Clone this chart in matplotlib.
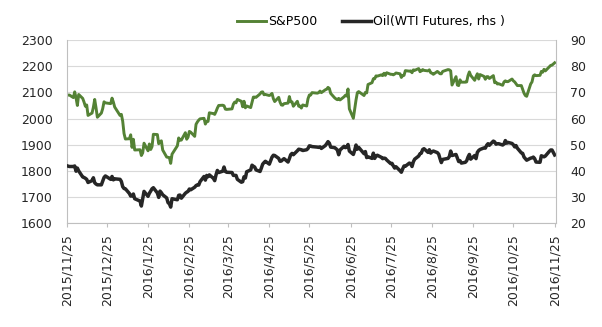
import pandas as pd
import matplotlib
matplotlib.use("Agg")
import matplotlib.pyplot as plt

# trading days, 2015/11/25 - 2016/11/25
dates = [
    "2015-11-25", "2015-11-27", "2015-11-30",
    "2015-12-01", "2015-12-02", "2015-12-03", "2015-12-04", "2015-12-07", "2015-12-08", "2015-12-09",
    "2015-12-10", "2015-12-11", "2015-12-14", "2015-12-15", "2015-12-16", "2015-12-17", "2015-12-18",
    "2015-12-21", "2015-12-22", "2015-12-23", "2015-12-24", "2015-12-28", "2015-12-29", "2015-12-30",
    "2015-12-31",
    "2016-01-04", "2016-01-05", "2016-01-06", "2016-01-07", "2016-01-08", "2016-01-11", "2016-01-12",
    "2016-01-13", "2016-01-14", "2016-01-15", "2016-01-19", "2016-01-20", "2016-01-21", "2016-01-22",
    "2016-01-25", "2016-01-26", "2016-01-27", "2016-01-28", "2016-01-29",
    "2016-02-01", "2016-02-02", "2016-02-03", "2016-02-04", "2016-02-05", "2016-02-08", "2016-02-09",
    "2016-02-10", "2016-02-11", "2016-02-12", "2016-02-16", "2016-02-17", "2016-02-18", "2016-02-19",
    "2016-02-22", "2016-02-23", "2016-02-24", "2016-02-25", "2016-02-26", "2016-02-29",
    "2016-03-01", "2016-03-02", "2016-03-03", "2016-03-04", "2016-03-07", "2016-03-08", "2016-03-09",
    "2016-03-10", "2016-03-11", "2016-03-14", "2016-03-15", "2016-03-16", "2016-03-17", "2016-03-18",
    "2016-03-21", "2016-03-22", "2016-03-23", "2016-03-24", "2016-03-28", "2016-03-29", "2016-03-30",
    "2016-03-31",
    "2016-04-01", "2016-04-04", "2016-04-05", "2016-04-06", "2016-04-07", "2016-04-08", "2016-04-11",
    "2016-04-12", "2016-04-13", "2016-04-14", "2016-04-15", "2016-04-18", "2016-04-19", "2016-04-20",
    "2016-04-21", "2016-04-22", "2016-04-25", "2016-04-26", "2016-04-27", "2016-04-28", "2016-04-29",
    "2016-05-02", "2016-05-03", "2016-05-04", "2016-05-05", "2016-05-06", "2016-05-09", "2016-05-10",
    "2016-05-11", "2016-05-12", "2016-05-13", "2016-05-16", "2016-05-17", "2016-05-18", "2016-05-19",
    "2016-05-20", "2016-05-23", "2016-05-24", "2016-05-25", "2016-05-26", "2016-05-27", "2016-05-31",
    "2016-06-01", "2016-06-02", "2016-06-03", "2016-06-06", "2016-06-07", "2016-06-08", "2016-06-09",
    "2016-06-10", "2016-06-13", "2016-06-14", "2016-06-15", "2016-06-16", "2016-06-17", "2016-06-20",
    "2016-06-21", "2016-06-22", "2016-06-23", "2016-06-24", "2016-06-27", "2016-06-28", "2016-06-29",
    "2016-06-30",
    "2016-07-01", "2016-07-05", "2016-07-06", "2016-07-07", "2016-07-08", "2016-07-11", "2016-07-12",
    "2016-07-13", "2016-07-14", "2016-07-15", "2016-07-18", "2016-07-19", "2016-07-20", "2016-07-21",
    "2016-07-22", "2016-07-25", "2016-07-26", "2016-07-27", "2016-07-28", "2016-07-29",
    "2016-08-01", "2016-08-02", "2016-08-03", "2016-08-04", "2016-08-05", "2016-08-08", "2016-08-09",
    "2016-08-10", "2016-08-11", "2016-08-12", "2016-08-15", "2016-08-16", "2016-08-17", "2016-08-18",
    "2016-08-19", "2016-08-22", "2016-08-23", "2016-08-24", "2016-08-25", "2016-08-26", "2016-08-29",
    "2016-08-30", "2016-08-31",
    "2016-09-01", "2016-09-02", "2016-09-06", "2016-09-07", "2016-09-08", "2016-09-09", "2016-09-12",
    "2016-09-13", "2016-09-14", "2016-09-15", "2016-09-16", "2016-09-19", "2016-09-20", "2016-09-21",
    "2016-09-22", "2016-09-23", "2016-09-26", "2016-09-27", "2016-09-28", "2016-09-29", "2016-09-30",
    "2016-10-03", "2016-10-04", "2016-10-05", "2016-10-06", "2016-10-07", "2016-10-10", "2016-10-11",
    "2016-10-12", "2016-10-13", "2016-10-14", "2016-10-17", "2016-10-18", "2016-10-19", "2016-10-20",
    "2016-10-21", "2016-10-24", "2016-10-25", "2016-10-26", "2016-10-27", "2016-10-28", "2016-10-31",
    "2016-11-01", "2016-11-02", "2016-11-03", "2016-11-04", "2016-11-07", "2016-11-08", "2016-11-09",
    "2016-11-10", "2016-11-11", "2016-11-14", "2016-11-15", "2016-11-16", "2016-11-17", "2016-11-18",
    "2016-11-21", "2016-11-22", "2016-11-23", "2016-11-25",
]

spx = [
    2089, 2090, 2080,
    2102, 2079, 2050, 2092, 2077, 2063, 2047, 2052, 2012, 2021, 2043, 2073, 2041, 2005, 2021, 2038,
    2064, 2060, 2057, 2078, 2063, 2044,
    2012, 2016, 1990, 1943, 1922, 1923, 1938, 1890, 1921, 1880, 1881, 1859, 1869, 1906, 1877, 1903,
    1882, 1893, 1940,
    1939, 1904, 1912, 1915, 1880, 1853, 1852, 1851, 1829, 1864, 1896, 1926, 1917, 1918, 1946, 1921,
    1929, 1951, 1948, 1932,
    1978, 1987, 1994, 1999, 2001, 1979, 1989, 1989, 2022, 2019, 2016, 2027, 2040, 2050, 2051, 2049,
    2036, 2035, 2037, 2055, 2063, 2060,
    2073, 2066, 2045, 2066, 2041, 2048, 2042, 2062, 2082, 2082, 2081, 2094, 2101, 2102, 2091, 2092,
    2088, 2091, 2096, 2076, 2065,
    2081, 2063, 2052, 2051, 2057, 2059, 2084, 2064, 2064, 2047, 2066, 2047, 2048, 2040, 2052, 2048,
    2076, 2090, 2090, 2099, 2097,
    2099, 2105, 2099, 2110, 2112, 2119, 2115, 2096, 2079, 2075, 2072, 2077, 2071, 2083, 2089, 2086,
    2113, 2037, 2001, 2036, 2071, 2099,
    2103, 2088, 2100, 2098, 2130, 2137, 2152, 2152, 2163, 2162, 2167, 2164, 2173, 2165, 2175, 2169,
    2169, 2167, 2170, 2174,
    2171, 2157, 2164, 2165, 2183, 2181, 2182, 2175, 2186, 2184, 2191, 2179, 2182, 2187, 2184, 2182,
    2186, 2175, 2173, 2169, 2180, 2176, 2171,
    2171, 2180, 2187, 2186, 2182, 2128, 2160, 2128, 2126, 2148, 2139, 2139, 2140, 2164, 2178, 2165,
    2146, 2160, 2171, 2151, 2168,
    2161, 2150, 2160, 2160, 2153, 2164, 2137, 2139, 2132, 2133, 2127, 2140, 2144, 2141, 2141, 2151,
    2144, 2140, 2133, 2126, 2126,
    2111, 2097, 2088, 2085, 2132, 2140, 2163, 2167, 2164, 2165, 2180, 2177, 2188, 2182, 2198, 2203,
    2204, 2213,
]

wti = [
    42.0, 41.7, 41.7,
    41.9, 39.9, 41.1, 40.0, 37.7, 37.5, 37.2, 36.8, 35.6, 36.3, 37.4, 35.5, 35.0, 34.7, 34.7, 36.1,
    37.5, 38.1, 36.8, 37.9, 36.6, 37.0,
    36.8, 36.0, 34.0, 33.3, 33.2, 31.4, 30.4, 30.5, 31.2, 29.4, 28.5, 26.6, 29.5, 32.2, 30.3, 31.5,
    32.3, 33.2, 33.6,
    31.6, 29.9, 32.3, 31.7, 30.9, 29.7, 27.9, 27.5, 26.2, 29.4, 29.0, 30.7, 30.8, 29.6, 31.5, 31.9,
    32.2, 33.1, 32.8, 33.8,
    34.4, 34.7, 34.6, 35.9, 37.9, 36.5, 38.3, 37.8, 38.5, 37.2, 36.3, 38.5, 40.2, 39.4, 39.9, 41.5,
    39.8, 39.5, 39.4, 38.3, 38.3, 38.3,
    36.8, 35.7, 35.9, 37.8, 37.3, 39.7, 40.4, 42.2, 41.8, 41.5, 40.4, 39.8, 41.1, 42.6, 43.2, 43.7,
    42.6, 44.0, 45.3, 46.0, 45.9,
    44.8, 43.7, 43.8, 44.3, 44.7, 43.4, 44.7, 46.2, 46.7, 46.2, 47.7, 48.3, 48.2, 48.1, 47.8, 48.1,
    48.6, 49.6, 49.5, 49.3, 49.1,
    49.0, 49.2, 48.6, 49.7, 50.4, 51.2, 50.6, 49.1, 48.9, 48.5, 48.0, 46.2, 48.0, 49.4, 48.9, 49.1,
    50.1, 47.6, 46.3, 47.9, 49.9, 48.3,
    49.0, 46.6, 47.4, 45.1, 45.4, 44.8, 46.8, 44.8, 45.7, 46.0, 45.2, 44.7, 44.9, 44.8, 44.2, 42.8,
    42.9, 41.9, 41.1, 41.6,
    40.1, 39.5, 40.8, 41.9, 41.8, 43.0, 42.8, 41.7, 43.5, 44.5, 45.7, 46.6, 46.8, 48.2, 48.5, 47.1,
    48.1, 46.8, 47.3, 47.6, 47.0, 46.4, 44.7,
    43.2, 44.4, 44.8, 45.5, 47.6, 45.9, 46.3, 44.9, 43.6, 43.9, 43.0, 43.3, 43.9, 45.3, 46.3, 44.5,
    45.9, 44.7, 47.1, 47.8, 48.2,
    48.8, 48.7, 49.8, 50.4, 49.8, 51.4, 51.1, 50.2, 50.4, 50.4, 49.9, 50.3, 51.6, 50.6, 50.9, 50.5,
    50.0, 49.2, 49.7, 48.7, 46.9,
    46.7, 45.3, 44.7, 44.1, 44.9, 45.0, 45.3, 44.7, 43.4, 43.3, 45.8, 45.6, 45.4, 45.7, 47.5, 48.0,
    48.0, 46.1,
]

tick_dates = pd.date_range("2015-11-25", periods=13, freq=pd.DateOffset(months=1))
tick_labels = [f"{d.year}/{d.month}/{d.day}" for d in tick_dates]

x = pd.to_datetime(dates)
green = "#548235"
black = "#262626"
gray = "#BFBFBF"
txt = "#262626"

plt.rcParams["font.family"] = "DejaVu Sans"
plt.rcParams["font.size"] = 9

fig = plt.figure(figsize=(6.02, 3.27), dpi=100)
ax = fig.add_axes([0.1108, 0.317, 0.8128, 0.5607])
ax2 = ax.twinx()

l1, = ax.plot(x, spx, color=green, lw=2.1, label="S&P500")
l2, = ax2.plot(x, wti, color=black, lw=2.5, label="Oil(WTI Futures, rhs )")

ax.set_ylim(1600, 2300)
ax.set_yticks(range(1600, 2301, 100))
ax2.set_ylim(20, 90)
ax2.set_yticks(range(20, 91, 10))
ax.set_xlim(pd.Timestamp("2015-11-25"), pd.Timestamp("2016-11-26"))
ax.set_xticks(tick_dates)
ax.set_xticklabels(tick_labels, rotation=90)

ax.grid(axis="y", color="#D9D9D9", lw=0.8)
ax.set_axisbelow(True)

for a in (ax, ax2):
    a.spines["top"].set_visible(False)
ax.spines["right"].set_visible(False)
ax.spines["left"].set_color(gray)
ax.spines["bottom"].set_color(gray)
ax2.spines["left"].set_visible(False)
ax2.spines["bottom"].set_visible(False)
ax2.spines["right"].set_color(gray)

ax.tick_params(axis="y", length=0, pad=10, labelcolor=txt)
ax2.tick_params(axis="y", length=0, pad=10, labelcolor=txt)
ax.tick_params(axis="x", length=3, color=gray, pad=5, labelcolor=txt)

fig.legend([l1, l2], [l1.get_label(), l2.get_label()], loc="center",
           bbox_to_anchor=(0.616, 0.933), ncol=2, frameon=False,
           handlelength=2.3, handletextpad=0.15, columnspacing=2.0, fontsize=9)

fig.savefig("out.png", dpi=100)
